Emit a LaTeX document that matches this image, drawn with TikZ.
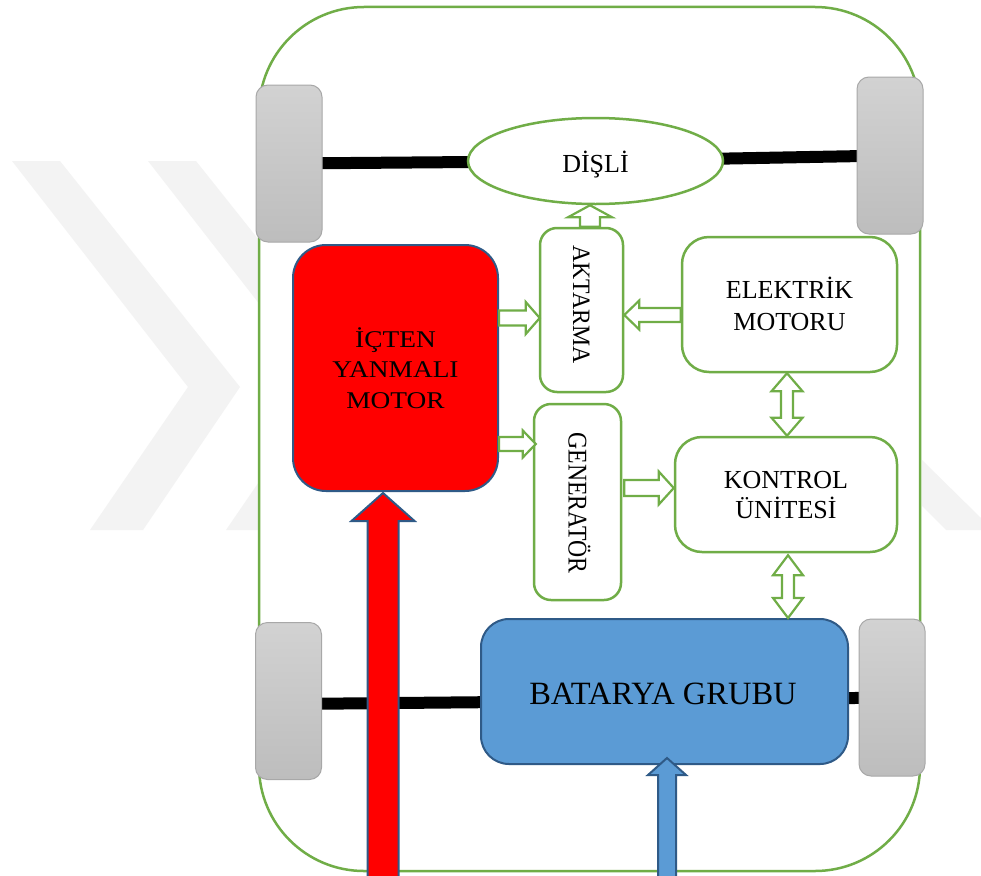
\documentclass[tikz,border=0pt]{standalone}
\usepackage{fontspec}
\setmainfont{Liberation Serif}
\usepackage{graphicx}
\usetikzlibrary{calc,shapes.geometric}
\definecolor{gr}{HTML}{70AD47}
\definecolor{bfill}{HTML}{5B9BD5}
\definecolor{dblue}{HTML}{2F5A87}
\definecolor{wtop}{HTML}{D2D2D2}
\definecolor{wbot}{HTML}{BDBDBD}
\definecolor{wline}{HTML}{A8A8A8}
\definecolor{wmark}{HTML}{F3F3F3}
\pgfdeclarelayer{back}
\pgfdeclarelayer{axl}
\pgfsetlayers{back,axl,main}
% block arrow: #2 tail, #3 tip, #4 shaft half width, #5 head half width, #6 head length
\newcommand\barrow[6][]{%
  \coordinate (bH) at ($(#3)!#6!(#2)$);
  \draw[#1] ($(#2)!#4!90:(#3)$) -- ($(bH)!#4!90:(#3)$) -- ($(bH)!#5!90:(#3)$) -- (#3)
    -- ($(bH)!#5!-90:(#3)$) -- ($(bH)!#4!-90:(#3)$) -- ($(#2)!#4!-90:(#3)$) -- cycle;}
% double block arrow: #2 end A, #3 end B, #4 shaft half, #5 head half, #6 head length
\newcommand\dbarrow[6][]{%
  \coordinate (dHa) at ($(#2)!#6!(#3)$);
  \coordinate (dHb) at ($(#3)!#6!(#2)$);
  \draw[#1] (#2) -- ($(dHa)!#5!90:(#3)$) -- ($(dHa)!#4!90:(#3)$) -- ($(dHb)!#4!90:(#3)$)
    -- ($(dHb)!#5!90:(#3)$) -- (#3) -- ($(dHb)!#5!-90:(#3)$) -- ($(dHb)!#4!-90:(#3)$)
    -- ($(dHa)!#4!-90:(#3)$) -- ($(dHa)!#5!-90:(#3)$) -- cycle;}
\begin{document}
\begin{tikzpicture}[x=1pt,y=-1pt,
  gbox/.style={draw=gr, line width=2.5pt, fill=white, inner sep=0pt},
  wheel/.style={draw=wline, line width=1pt, rounded corners=12pt, top color=wtop, bottom color=wbot,
    minimum width=66pt, minimum height=157pt, inner sep=0pt},
  axle/.style={line width=12pt, black},
  garrow/.style={draw=gr, line width=2.2pt, fill=white, line join=miter},
  redarrow/.style={draw=dblue, line width=2pt, fill=red, line join=miter},
  bluearrow/.style={draw=dblue, line width=2pt, fill=bfill, line join=miter},
  txt/.style={font=\fontsize{26}{31}\selectfont, inner sep=0pt, text=black}]
\useasboundingbox (0,0) rectangle (981,875);
\begin{pgfonlayer}{back}
  \fill[white] (0,0) rectangle (981,875);
  \fill[wmark] (12,161) -- (60,161) -- (240,387) -- (143,530) -- (90,530) -- (188,387) -- cycle;
  \fill[wmark] (148,161) -- (196,161) -- (376,387) -- (279,530) -- (226,530) -- (324,387) -- cycle;
  \fill[wmark] (922,460) -- (981,518) -- (981,530) -- (946,530) -- (922,506) -- cycle;
  \node[gbox, rounded corners=105pt, minimum width=661pt, minimum height=864pt] (car) at (589.5,439) {};
\end{pgfonlayer}
% wheels
\node[wheel] (wUL) at (289,163.5) {};
\node[wheel] (wUR) at (890,155.5) {};
\node[wheel] (wLL) at (288.5,701) {};
\node[wheel] (wLR) at (892,697.5) {};
% gear
\node[gbox, ellipse, minimum width=255pt, minimum height=86pt] (disli) at (595.5,161) {};
\node[txt, anchor=base] (tdisli) at (595.5,172) {DİŞLİ};
% boxes
\node[gbox, rounded corners=17pt, minimum width=83pt, minimum height=164pt] (akt) at (581.5,310) {};
\node[gbox, rounded corners=27pt, minimum width=215pt, minimum height=135pt] (elek) at (789.5,304.5) {};
\node[gbox, rounded corners=17pt, minimum width=87pt, minimum height=196pt] (gen) at (577.5,502) {};
\node[gbox, rounded corners=27pt, minimum width=222pt, minimum height=115pt] (kont) at (786,494.5) {};
\node[draw=dblue, line width=2pt, fill=red, rounded corners=33pt, minimum width=205pt, minimum height=246pt, inner sep=0pt] (icten) at (395.5,368) {};
\node[draw=dblue, line width=2pt, fill=bfill, rounded corners=28pt, minimum width=367pt, minimum height=145pt, inner sep=0pt] (bat) at (664.5,691.5) {};
% texts
\node[txt, rotate=-90, anchor=base] (takt) at (573,304.5) {\fontsize{25}{30}\selectfont\scalebox{0.95}[1]{AKTARMA}};
\node[txt, rotate=-90, anchor=base] (tgen) at (568.5,503) {\fontsize{27}{30}\selectfont\scalebox{0.88}[1]{GENERATÖR}};
\node[txt, anchor=base] (tel1) at (789.5,298) {ELEKTRİK};
\node[txt, anchor=base] (tel2) at (789.5,330) {MOTORU};
\node[txt, anchor=base] (tko1) at (786,488) {KONTROL};
\node[txt, anchor=base] (tko2) at (786,518) {ÜNİTESİ};
\node[txt, anchor=base] (tic1) at (395.5,347) {\fontsize{24}{30}\selectfont\scalebox{1.14}[1]{İÇTEN}};
\node[txt, anchor=base] (tic2) at (395.5,377) {\fontsize{24}{30}\selectfont\scalebox{1.14}[1]{YANMALI}};
\node[txt, anchor=base] (tic3) at (395.5,408) {\fontsize{24}{30}\selectfont\scalebox{1.14}[1]{MOTOR}};
\node[txt, anchor=base] (tbat) at (663,704) {\fontsize{32.5}{36}\selectfont BATARYA GRUBU};
% axles
\begin{pgfonlayer}{axl}
  \draw[axle] (wUL.center) -- (disli.center) -- (wUR.center);
  \draw[axle] ($(wLL.center)+(0,3)$) -- ($(bat.center)+(0,9)$) -- (wLR.center);
\end{pgfonlayer}
% green block arrows
\coordinate (upT) at ($(akt.north)+(8.5,0)$);
\coordinate (upH) at (upT |- disli.south);
\barrow[garrow]{upT}{upH}{10pt}{22pt}{12pt}
\coordinate (a1T) at ($(icten.east)+(0,-50)$);
\coordinate (a1H) at ($(akt.west |- a1T)+(1,0)$);
\barrow[garrow]{a1T}{a1H}{7.5pt}{16pt}{14pt}
\coordinate (a2T) at ($(icten.east)+(0,76)$);
\coordinate (a2H) at ($(gen.west |- a2T)+(3,0)$);
\barrow[garrow]{a2T}{a2H}{7pt}{13.5pt}{13pt}
\coordinate (a3T) at ($(elek.west)+(0,10.5)$);
\coordinate (a3H) at (akt.east |- a3T);
\barrow[garrow]{a3T}{a3H}{7pt}{14.5pt}{15pt}
\coordinate (a4H) at ($(kont.west)+(0,-6.5)$);
\coordinate (a4T) at ($(gen.east |- a4H)+(2,0)$);
\barrow[garrow]{a4T}{a4H}{8pt}{16.5pt}{15pt}
\coordinate (d1A) at ($(elek.south)+(-2.5,0)$);
\coordinate (d1B) at (d1A |- kont.north);
\dbarrow[garrow]{d1A}{d1B}{6pt}{15.5pt}{18pt}
\coordinate (d2A) at ($(kont.south)+(2,2)$);
\coordinate (d2B) at (d2A |- bat.north);
\dbarrow[garrow]{d2A}{d2B}{6pt}{15pt}{20pt}
% red and blue arrows
\coordinate (rH) at ($(icten.south)+(-12.5,1)$);
\coordinate (rT) at ($(rH)+(0,392)$);
\barrow[redarrow]{rT}{rH}{15.5pt}{31.5pt}{28pt}
\coordinate (bH2) at ($(bat.south)+(2.5,-7)$);
\coordinate (bT2) at ($(bH2)+(0,125)$);
\barrow[bluearrow]{bT2}{bH2}{9pt}{19pt}{17pt}
\end{tikzpicture}
\end{document}
